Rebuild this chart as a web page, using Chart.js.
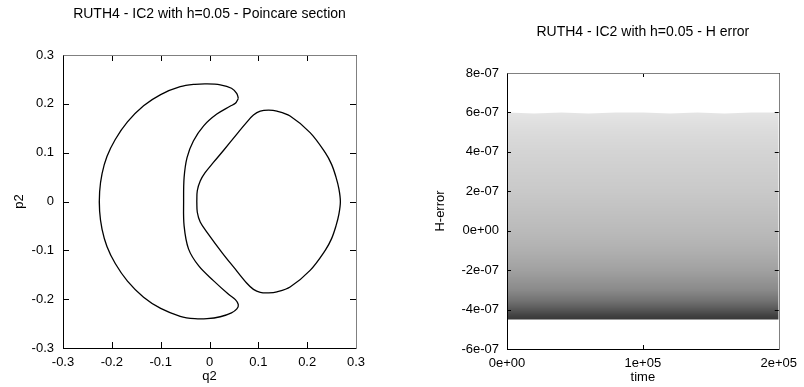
<!DOCTYPE html>
<html>
<head>
<meta charset="utf-8">
<script src="https://cdn.jsdelivr.net/npm/chart.js@4.4.0/dist/chart.umd.min.js"></script>
<style>
  html, body { margin: 0; padding: 0; background: #fff; }
  #wrap { position: relative; width: 804px; height: 387px; }
  #wrap canvas { position: absolute; top: 0; }
</style>
</head>
<body>
<div id="wrap">
  <canvas id="poincare" width="400" height="387" style="left:0"></canvas>
  <canvas id="herror" width="404" height="387" style="left:400px"></canvas>
</div>
<script>
// Poincare section, crescent shaped orbit
const crescentQ = [0.059, 0.056, 0.045, 0.022, -0.005, -0.030, -0.060, -0.100, -0.135, -0.168, -0.193, -0.210, -0.220, -0.225,
  -0.225, -0.220, -0.210, -0.193, -0.168, -0.135, -0.100, -0.060, -0.030, -0.005, 0.022, 0.045, 0.056, 0.059,
  0.053, 0.039, 0.008, -0.022, -0.043, -0.052, -0.053, -0.052, -0.046, -0.033, -0.012, 0.015, 0.042, 0.053, 0.059];
const crescentP = [0.211, 0.221, 0.232, 0.239, 0.241, 0.240, 0.235, 0.219, 0.196, 0.163, 0.127, 0.092, 0.057, 0.020,
  -0.020, -0.057, -0.092, -0.127, -0.163, -0.196, -0.219, -0.235, -0.240, -0.240, -0.236, -0.228, -0.220, -0.211,
  -0.201, -0.190, -0.162, -0.132, -0.097, -0.050, 0.000, 0.049, 0.090, 0.124, 0.155, 0.179, 0.195, 0.201, 0.211];

// second orbit, lens shaped
const lensQ = [-0.026, -0.025, -0.019, -0.009, 0.008, 0.029, 0.056, 0.076, 0.090, 0.104, 0.121, 0.138, 0.165, 0.206, 0.237, 0.250, 0.259, 0.265, 0.268,
  0.265, 0.259, 0.250, 0.237, 0.206, 0.165, 0.138, 0.121, 0.104, 0.090, 0.076, 0.050, 0.026, -0.005, -0.019, -0.025, -0.026];
const lensP = [0.000, 0.022, 0.042, 0.059, 0.080, 0.105, 0.138, 0.162, 0.177, 0.185, 0.187, 0.185, 0.175, 0.141, 0.100, 0.076, 0.050, 0.026, 0.000,
  -0.026, -0.050, -0.076, -0.100, -0.141, -0.175, -0.185, -0.187, -0.186, -0.180, -0.167, -0.135, -0.105, -0.063, -0.042, -0.022, 0.000];

const poincareTicks = [-0.3, -0.2, -0.1, 0, 0.1, 0.2, 0.3];
const poincareLabels = ['-0.3', '-0.2', '-0.1', '0', '0.1', '0.2', '0.3'];

// H error cloud: upper and lower edge of the points over time
const hTime = [0, 20000, 40000, 60000, 80000, 100000, 120000, 140000, 160000, 180000, 200000];
const hUpper = [6.0e-7, 5.95e-7, 6.0e-7, 5.95e-7, 6.0e-7, 6.0e-7, 5.95e-7, 6.0e-7, 5.95e-7, 6.0e-7, 6.0e-7];
const hLower = [-4.5e-7, -4.5e-7, -4.5e-7, -4.5e-7, -4.5e-7, -4.5e-7, -4.5e-7, -4.5e-7, -4.5e-7, -4.5e-7, -4.5e-7];
// how dense the points are at each H-error level (share of ink)
const hLevels = [6.0e-7, 5.0e-7, 4.0e-7, 2.0e-7, 0, -1.0e-7, -2.0e-7, -3.0e-7, -3.6e-7, -4.0e-7, -4.3e-7, -4.5e-7];
const hDensity = [0.10, 0.14, 0.17, 0.21, 0.27, 0.31, 0.37, 0.46, 0.56, 0.66, 0.74, 0.78];

const timeTicks = [0, 100000, 200000];
const timeLabels = ['0e+00', '1e+05', '2e+05'];
const hErrTicks = [-6e-7, -4e-7, -2e-7, 0, 2e-7, 4e-7, 6e-7, 8e-7];
const hErrLabels = ['-6e-07', '-4e-07', '-2e-07', '0e+00', '2e-07', '4e-07', '6e-07', '8e-07'];

const font = { family: '"Liberation Sans", Arial, Helvetica, sans-serif', size: 13 };

function toPoints(xs, ys) {
    return xs.map((x, i) => ({ x: x, y: ys[i] }));
}

function fixedTicks(values) {
    return function(scale) { scale.ticks = values.map(v => ({ value: v })); };
}

// gnuplot style box: inner ticks on every side plus the title over the plot
const framePlugin = {
    id: 'frame',
    afterDraw(chart, args, opts) {
        const { ctx, chartArea: a, scales } = chart;
        const t = opts.tick;
        ctx.save();
        ctx.strokeStyle = '#000';
        ctx.lineWidth = 1;
        ctx.beginPath();
        scales.x.ticks.forEach(tk => {
            const x = Math.round(scales.x.getPixelForValue(tk.value)) + 0.5;
            ctx.moveTo(x, a.bottom); ctx.lineTo(x, a.bottom - t);
            ctx.moveTo(x, a.top); ctx.lineTo(x, a.top + t);
        });
        scales.y.ticks.forEach(tk => {
            const y = Math.round(scales.y.getPixelForValue(tk.value)) + 0.5;
            ctx.moveTo(a.left, y); ctx.lineTo(a.left + t, y);
            ctx.moveTo(a.right, y); ctx.lineTo(a.right - t, y);
        });
        ctx.stroke();

        const l = Math.round(a.left) + 0.5, r = Math.round(a.right) + 0.5;
        const tp = Math.round(a.top) + 0.5, b = Math.round(a.bottom) + 0.5;
        ctx.beginPath();
        ctx.moveTo(l, tp); ctx.lineTo(l, b); ctx.lineTo(r, b);
        ctx.stroke();
        ctx.strokeStyle = '#808080';
        ctx.beginPath();
        ctx.moveTo(l, tp); ctx.lineTo(r, tp); ctx.lineTo(r, b);
        ctx.stroke();

        ctx.fillStyle = '#000';
        ctx.font = '14px ' + font.family;
        ctx.textAlign = 'center';
        ctx.textBaseline = 'middle';
        ctx.fillText(opts.text, (a.left + a.right) / 2, opts.y);
        ctx.restore();
    }
};

function axis(min, max, ticks, labels, pad, extra) {
    return Object.assign({
        type: 'linear',
        min: min,
        max: max,
        afterBuildTicks: fixedTicks(ticks),
        grid: { display: false, drawTicks: false },
        border: { display: false },
        ticks: { autoSkip: false, maxRotation: 0, padding: pad, color: '#000', font: font, callback: (v, i) => labels[i] }
    }, extra);
}

// left: Poincare section
new Chart(document.getElementById('poincare'), {
    type: 'scatter',
    data: {
        datasets: [
            { data: toPoints(crescentQ, crescentP), showLine: true, borderColor: '#000', borderWidth: 1.3, pointRadius: 0, tension: 0.35 },
            { data: toPoints(lensQ, lensP), showLine: true, borderColor: '#000', borderWidth: 1.3, pointRadius: 0, tension: 0.35 }
        ]
    },
    options: {
        responsive: false,
        animation: false,
        devicePixelRatio: 1,
        layout: { padding: { top: 55, right: 44, left: 0, bottom: 0 } },
        plugins: {
            legend: { display: false },
            tooltip: { enabled: false },
            frame: { text: 'RUTH4 - IC2 with h=0.05 - Poincare section', y: 14, tick: 6 }
        },
        scales: {
            x: axis(-0.3, 0.3, poincareTicks, poincareLabels, 7, {
                afterFit: s => { s.height = 39; },
                title: { display: true, text: 'q2', color: '#000', font: font, padding: { top: 0, bottom: 3 } }
            }),
            y: axis(-0.3, 0.3, poincareTicks, poincareLabels, 9, {
                afterFit: s => { s.width = 63; },
                title: { display: true, text: 'p2', color: '#000', font: font, padding: { top: 12, bottom: 0 } }
            })
        }
    },
    plugins: [framePlugin]
});

// right: energy error cloud, shaded by point density
function densityFill(context) {
    const chart = context.chart;
    const y = chart.scales.y;
    if (!chart.chartArea || !y) return 'rgba(0,0,0,0.3)';
    const top = y.getPixelForValue(hLevels[0]);
    const bottom = y.getPixelForValue(hLevels[hLevels.length - 1]);
    const g = chart.ctx.createLinearGradient(0, top, 0, bottom);
    hLevels.forEach((lv, i) => {
        const pos = (y.getPixelForValue(lv) - top) / (bottom - top);
        g.addColorStop(Math.min(1, Math.max(0, pos)), 'rgba(0,0,0,' + hDensity[i] + ')');
    });
    return g;
}

new Chart(document.getElementById('herror'), {
    type: 'line',
    data: {
        datasets: [
            { data: toPoints(hTime, hLower), borderWidth: 0, borderColor: 'rgba(0,0,0,0)', pointRadius: 0, fill: false },
            { data: toPoints(hTime, hUpper), borderWidth: 0, borderColor: 'rgba(0,0,0,0)', pointRadius: 0, fill: '-1', backgroundColor: densityFill }
        ]
    },
    options: {
        responsive: false,
        animation: false,
        devicePixelRatio: 1,
        layout: { padding: { top: 73, right: 21, left: 0, bottom: 0 } },
        plugins: {
            legend: { display: false },
            tooltip: { enabled: false },
            frame: { text: 'RUTH4 - IC2 with h=0.05 - H error', y: 32, tick: 4 }
        },
        scales: {
            x: axis(0, 200000, timeTicks, timeLabels, 7, {
                afterFit: s => { s.height = 38; },
                title: { display: true, text: 'time', color: '#000', font: font, padding: { top: 0, bottom: 2 } }
            }),
            y: axis(-6e-7, 8e-7, hErrTicks, hErrLabels, 8, {
                afterFit: s => { s.width = 107; },
                title: { display: true, text: 'H-error', color: '#000', font: font, padding: { top: 33, bottom: 0 } }
            })
        }
    },
    plugins: [framePlugin]
});
</script>
</body>
</html>
